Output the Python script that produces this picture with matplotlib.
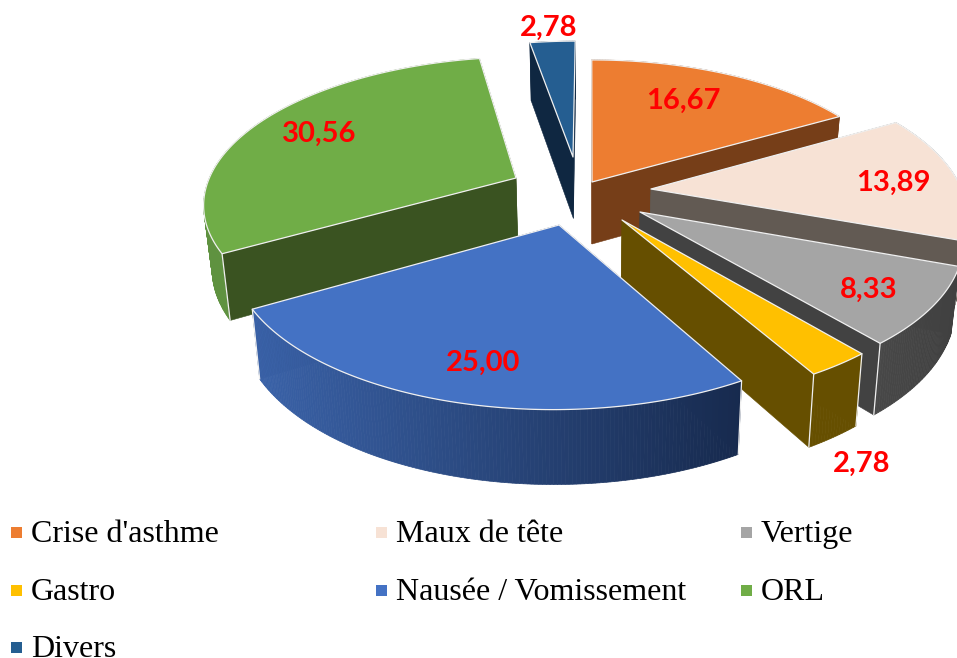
import numpy as np
import matplotlib
matplotlib.use("Agg")
import matplotlib.pyplot as plt
from matplotlib.patches import Polygon, Rectangle
from matplotlib.colors import to_rgb

# ---- data ----
categories = ["Crise d'asthme", "Maux de tête", "Vertige", "Gastro",
              "Nausée / Vomissement", "ORL", "Divers"]
values = [16.67, 13.89, 8.33, 2.78, 25.00, 30.56, 2.78]
value_labels = ["16,67", "13,89", "8,33", "2,78", "25,00", "30,56", "2,78"]

# ---- styles ----
top_colors = ["#ED7D31", "#F7E2D5", "#A5A5A5", "#FFC000", "#4472C4", "#70AD47", "#255E91"]
wall_colors = ["#763E18", "#625A53", "#424242", "#664F00", "#223962", "#3A5321", "#0F2741"]
outer_from = ["#763E18", "#625A53", "#484848", "#664F00", "#3A62A8", "#5F9240", "#0F2741"]
outer_to = ["#763E18", "#625A53", "#404040", "#664F00", "#172A4E", "#5F9240", "#0F2741"]
edge = "#F0F0F0"

# projection of the pie plane (perspective) and exploded apex of every slice, in pixels
CX, CY, A, B, C = 590.0, 182.0, 141.0, 0.155, 308.0
apex_px = [(592, 182), (651, 189), (640, 212), (622, 220), (559, 225), (516, 178), (573, 157)]
label_px = [(683, 101), (893, 183), (869, 290), (862, 464), (483, 363), (319, 134), (549, 28)]
draw_order = [6, 0, 5, 1, 2, 3, 4]
legend_x = [16, 381, 746]
legend_base = [542, 600, 657]


def project(X, T):
    s = 1.0 / (1.0 + B * T)
    return CX + X * C * s, CY - A * T * s


def lower(px, py, T):
    d = np.interp(T, [-1.3, 0.0, 1.2], [75.0, 62.0, 58.0])
    return px + (CX - px) * 0.022, py + d


def unproject(px, py):
    h = CY - py
    T = h / (A - B * h)
    s = 1.0 / (1.0 + B * T)
    return (px - CX) / (C * s), T


fig = plt.figure(figsize=(9.57, 6.58), dpi=100)
ax = fig.add_axes([0, 0, 1, 1])
ax.set_xlim(0, 957)
ax.set_ylim(658, 0)
ax.axis("off")

fractions = np.array(values) / np.sum(values)
bounds = np.concatenate([[0.0], np.cumsum(fractions)]) * 2 * np.pi

for i in draw_order:
    X0, T0 = unproject(*apex_px[i])
    a0, a1 = bounds[i], bounds[i + 1]
    th = np.linspace(a0, a1, max(int((a1 - a0) * 100), 12))
    Xa = X0 + np.sin(th)
    Ta = T0 + np.cos(th)
    tx, ty = project(Xa, Ta)
    bx, by = lower(tx, ty, Ta)
    ax_top, ay_top = project(X0, T0)
    ax_bot, ay_bot = lower(ax_top, ay_top, T0)

    def cut(j):
        pts = [(ax_top, ay_top), (tx[j], ty[j]), (bx[j], by[j]), (ax_bot, ay_bot)]
        return ((T0 + Ta[j]) / 2, "cut", pts)

    faces = [cut(0), cut(-1), (Ta.mean(), "outer", None)]
    faces.sort(key=lambda f: -f[0])

    for _, kind, pts in faces:
        if kind == "cut":
            ax.add_patch(Polygon(pts, closed=True, facecolor=wall_colors[i],
                                 edgecolor=wall_colors[i], linewidth=0.4, zorder=1))
        else:
            c0, c1 = np.array(to_rgb(outer_from[i])), np.array(to_rgb(outer_to[i]))
            span = max(tx.max() - tx.min(), 1)
            for j in range(len(th) - 1):
                w = ((tx[j] + tx[j + 1]) / 2 - tx.min()) / span
                col = c0 + (c1 - c0) * w
                q = [(tx[j], ty[j]), (tx[j + 1], ty[j + 1]), (bx[j + 1], by[j + 1]), (bx[j], by[j])]
                ax.add_patch(Polygon(q, closed=True, facecolor=col, edgecolor=col,
                                     linewidth=0.5, zorder=1))
    for j in (0, -1):
        if Ta[j] < -0.3 and not (i == 2 and j == 0):
            ax.plot([tx[j], bx[j]], [ty[j], by[j]], color=edge, lw=0.9, zorder=1,
                    solid_capstyle="round")
    top = [(ax_top, ay_top)] + list(zip(tx, ty))
    ax.add_patch(Polygon(top, closed=True, facecolor=top_colors[i], edgecolor=edge,
                         linewidth=0.9, joinstyle="round", zorder=1))

for (x, y), lab in zip(label_px, value_labels):
    ax.text(x, y, lab, color="#FF0000", fontsize=21, fontweight="bold",
            family="Lato", ha="center", va="center", zorder=5)

positions = [(0, 0), (1, 0), (2, 0), (0, 1), (1, 1), (2, 1), (0, 2)]
centers = [532, 590, 647]
for (cx_, ry), name, col in zip(positions, categories, top_colors):
    x = legend_x[cx_]
    ax.add_patch(Rectangle((x - 5.5, centers[ry] - 5.5), 11, 11, facecolor=col,
                           edgecolor="none", zorder=5))
    ax.text(x + 15, legend_base[ry], name, family="Liberation Serif", fontsize=23,
            color="#000000", ha="left", va="baseline", zorder=5)

fig.savefig("out.png", dpi=100)
